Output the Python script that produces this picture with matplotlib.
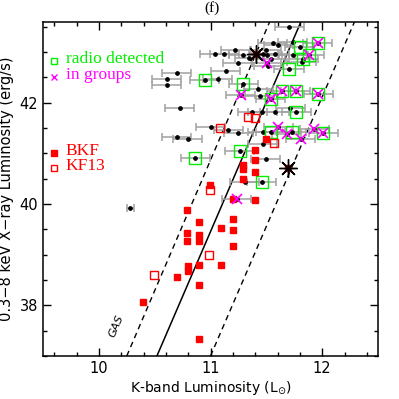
import numpy as np
import matplotlib.pyplot as plt

plt.rcParams['font.family'] = ['DejaVu Sans']

# black points (K-band, X-ray) with horizontal errors
blk_k = [11.705, 11.556, 11.606, 11.472, 11.508, 11.577, 11.736, 11.741, 11.817, 11.517,
         11.038, 11.121, 11.220, 11.242, 11.346, 11.137, 11.065, 10.699, 10.609, 10.609,
         10.723, 11.427, 11.442, 11.712, 11.373, 11.463, 11.577, 11.002, 11.157, 11.247,
         10.699, 10.798, 11.466, 11.466, 11.496, 11.307, 10.283, 11.497, 11.292, 11.539,
         10.948, 11.292, 11.703, 11.801, 11.831, 11.885, 11.960, 11.538, 11.637, 11.763,
         11.966, 11.770, 11.538, 11.727, 12.011, 11.262, 11.457, 10.864,
         11.502, 11.269, 11.606, 11.682, 11.808, 11.930, 11.233]
blk_lx = [43.50, 43.17, 43.14, 42.97, 42.94, 42.97, 43.20, 42.94, 42.81, 42.72,
          42.97, 42.97, 43.05, 42.79, 42.89, 42.63, 42.46, 42.58, 42.46, 42.35,
          41.89, 42.28, 42.13, 41.89, 41.82, 41.82, 41.82, 41.53, 41.46, 41.41,
          41.32, 41.28, 41.42, 41.19, 40.88, 40.43, 39.92, 43.04, 42.94, 42.86,
          42.44, 42.37, 42.66, 43.10, 42.86, 42.94, 43.17, 42.07, 42.24, 42.24,
          42.17, 41.82, 41.42, 41.42, 41.40, 41.05, 40.43, 40.90,
          42.79, 42.15, 41.52, 41.38, 41.29, 41.48, 40.10]
blk_err = [0.13] * len(blk_k)
blk_err[36] = 0.03

# radio detected (green squares)
rad_k = [10.948, 11.292, 11.703, 11.801, 11.831, 11.885, 11.960, 11.538, 11.637, 11.763,
         11.966, 11.770, 11.538, 11.727, 12.011, 11.262, 11.457, 10.864]
rad_lx = [42.44, 42.37, 42.66, 43.10, 42.86, 42.94, 43.17, 42.07, 42.24, 42.24,
          42.17, 41.82, 41.42, 41.42, 41.40, 41.05, 40.43, 40.90]

# in groups (magenta crosses)
grp_k = [11.885, 11.960, 11.538, 11.637, 11.763, 11.966, 12.011,
         11.502, 11.269, 11.606, 11.682, 11.808, 11.930, 11.233]
grp_lx = [42.94, 43.17, 42.07, 42.24, 42.24, 42.17, 41.40,
          42.79, 42.15, 41.52, 41.38, 41.29, 41.48, 40.10]

# BKF (filled red)
bkf_k = [10.999, 10.792, 10.897, 10.792, 10.792, 10.897, 10.897, 11.098, 11.197, 11.197,
         11.197, 11.197, 11.397, 11.499, 11.397, 11.397, 11.397, 11.294, 11.294, 11.294,
         10.798, 10.798, 10.897, 11.098, 10.699, 10.897, 10.394, 10.897, 11.406, 11.696]
bkf_lx = [40.37, 39.89, 39.64, 39.43, 39.27, 39.39, 39.28, 39.53, 39.71, 39.49,
          39.18, 40.10, 40.08, 41.28, 41.07, 40.86, 40.64, 40.78, 40.70, 40.50,
          38.78, 38.67, 38.80, 38.79, 38.55, 38.40, 38.07, 37.34, 42.97, 40.71]

# KF13 (open red)
kf_k = [11.337, 11.397, 11.087, 11.571, 10.999, 10.987, 10.492]
kf_lx = [41.71, 41.69, 41.51, 41.21, 40.28, 39.00, 38.59]

# stars
star_k = [11.406, 11.696]
star_lx = [42.97, 40.71]

# relation lines
line_k = [10.52, 11.81]
lo_k = [10.25, 11.53]
hi_k = [11.00, 12.29]
line_lx = [37.0, 43.6]

fig = plt.figure(figsize=(3.99, 3.99), dpi=100)
ax = fig.add_axes([0.1078, 0.1078, 0.8396, 0.8378])

ax.plot(line_k, line_lx, color='black', lw=1.1)
ax.plot(lo_k, line_lx, color='black', lw=1.0, dashes=(4, 3))
ax.plot(hi_k, line_lx, color='black', lw=1.0, dashes=(4, 3))

ax.errorbar(blk_k, blk_lx, xerr=blk_err, fmt='o', color='black', ms=2.4,
            ecolor='#a0a0a0', elinewidth=1.1, capsize=3, capthick=1.1, zorder=3)
ax.plot(rad_k, rad_lx, 's', mfc='none', mec='#00ee00', ms=8.5, mew=1.0, zorder=4)
ax.plot(bkf_k, bkf_lx, 's', color='red', ms=5, zorder=4)
ax.plot(kf_k, kf_lx, 's', mfc='none', mec='red', ms=5.5, mew=1.0, zorder=4)
ax.plot(grp_k, grp_lx, 'x', color='magenta', ms=7.5, mew=1.2, zorder=5)
ax.plot(star_k, star_lx, marker=(8, 2, 0), ls='none', color='black', ms=13, mew=1.0, zorder=6)

ax.text(10.16, 37.6, 'GAS', rotation=67, fontsize=8, style='italic',
        ha='center', va='center')

# legend
leg_lab = ['radio detected', 'in groups', 'BKF', 'KF13']
leg_col = ['#00ee00', 'magenta', 'red', 'red']
leg_y = [0.882, 0.835, 0.607, 0.562]
leg_mk = [dict(marker='s', mfc='none', mec='#00ee00', ms=4.5, mew=1.0),
          dict(marker='x', color='magenta', ms=4.5, mew=1.0),
          dict(marker='s', color='red', ms=4.5),
          dict(marker='s', mfc='none', mec='red', ms=4.5, mew=1.0)]
for lab, col, y, mk in zip(leg_lab, leg_col, leg_y, leg_mk):
    ax.plot([0.033], [y], ls='none', transform=ax.transAxes, clip_on=False, **mk)
    ax.text(0.068, y + 0.006, lab, color=col, transform=ax.transAxes,
            fontsize=12.5, family='Liberation Serif', va='center')

ax.set_xlim(9.5, 12.5)
ax.set_ylim(37.0, 43.6)
ax.set_xticks([10, 11, 12])
ax.set_yticks([38, 40, 42])
ax.set_xticks(np.arange(9.6, 12.5, 0.2), minor=True)
ax.set_yticks(np.arange(37.0, 43.6, 0.5), minor=True)
ax.tick_params(which='both', direction='in', top=True, right=True, width=1.0,
               labelsize=10.5)
ax.tick_params(which='major', length=6)
ax.tick_params(which='minor', length=3)
for s in ax.spines.values():
    s.set_linewidth(1.1)

ax.set_xlabel(r'K-band Luminosity (L$_{\odot}$)', fontsize=10, labelpad=2)
ax.set_ylabel('0.3\u22128 keV X\u2212ray Luminosity (erg/s)', fontsize=10.5, labelpad=4)
fig.text(0.532, 0.98, '(f)', fontsize=11, family='Liberation Serif',
         ha='center', va='center')

fig.savefig('out.png', dpi=100)
